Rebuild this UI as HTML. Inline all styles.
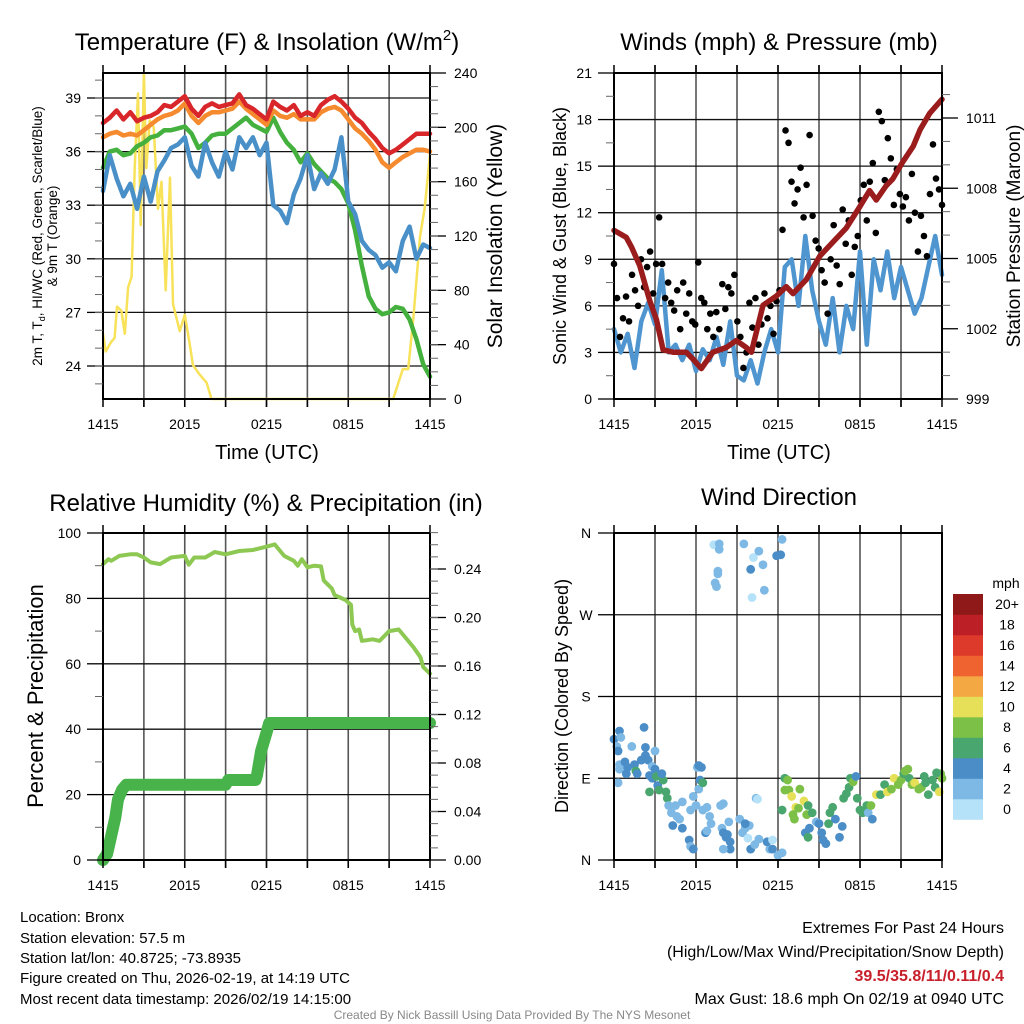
<!DOCTYPE html>
<html><head><meta charset="utf-8">
<style>
html,body{margin:0;padding:0;background:#fff;}
svg{display:block;font-family:"Liberation Sans",Arial,sans-serif;}
</style></head>
<body>
<svg id="chart" xmlns="http://www.w3.org/2000/svg" width="1024" height="1024" viewBox="0 0 1024 1024">
<rect x="0" y="0" width="1024" height="1024" fill="#fff"/>
<g id="layer"></g>
<text x="267" y="50" font-size="24" text-anchor="middle">Temperature (F) &amp; Insolation (W/m<tspan font-size="15" dy="-10">2</tspan><tspan dy="10">)</tspan></text>
<text x="779" y="50" font-size="24" text-anchor="middle">Winds (mph) &amp; Pressure (mb)</text>
<text x="266" y="511" font-size="24" text-anchor="middle">Relative Humidity (%) &amp; Precipitation (in)</text>
<text x="779" y="505" font-size="24" text-anchor="middle">Wind Direction</text>
<text x="267" y="459" font-size="20" text-anchor="middle">Time (UTC)</text>
<text x="779" y="459" font-size="20" text-anchor="middle">Time (UTC)</text>
<text transform="translate(42,236) rotate(-90)" font-size="13.5" text-anchor="middle">2m T, T<tspan font-size="9" dy="3">d</tspan><tspan dy="-3">, HI/WC (Red, Green, Scarlet/Blue)</tspan></text>
<text transform="translate(57,236) rotate(-90)" font-size="13.5" text-anchor="middle">&amp; 9m T (Orange)</text>
<text transform="translate(502,236) rotate(-90)" font-size="21" text-anchor="middle">Solar Insolation (Yellow)</text>
<text transform="translate(566,236) rotate(-90)" font-size="18" text-anchor="middle">Sonic Wind &amp; Gust (Blue, Black)</text>
<text transform="translate(1020,236) rotate(-90)" font-size="19" text-anchor="middle">Station Pressure (Maroon)</text>
<text transform="translate(43,696) rotate(-90)" font-size="22" text-anchor="middle">Percent &amp; Precipitation</text>
<text transform="translate(568,696) rotate(-90)" font-size="18" text-anchor="middle">Direction (Colored By Speed)</text>
<g font-size="15">
<text x="20" y="922">Location: Bronx</text>
<text x="20" y="943">Station elevation: 57.5 m</text>
<text x="20" y="963">Station lat/lon: 40.8725; -73.8935</text>
<text x="20" y="983">Figure created on Thu, 2026-02-19, at 14:19 UTC</text>
<text x="20" y="1004">Most recent data timestamp: 2026/02/19 14:15:00</text>
</g>
<g font-size="16" text-anchor="end">
<text x="1004" y="933">Extremes For Past 24 Hours</text>
<text x="1004" y="957">(High/Low/Max Wind/Precipitation/Snow Depth)</text>
<text x="1004" y="981" fill="#c8202a" font-weight="bold">39.5/35.8/11/0.11/0.4</text>
<text x="1004" y="1004">Max Gust: 18.6 mph On 02/19 at 0940 UTC</text>
</g>
<text x="512" y="1019" font-size="12" fill="#888" text-anchor="middle">Created By Nick Bassill Using Data Provided By The NYS Mesonet</text>
</svg>
<script>
const xTickLabels = ["1415","2015","0215","0815","1415"];
const tempLeftTicks = [24,27,30,33,36,39];
const solarTicks = [0,40,80,120,160,200,240];
const windTicks = [0,3,6,9,12,15,18,21];
const pressTicks = [999,1002,1005,1008,1011];
const rhTicks = [0,20,40,60,80,100];
const precipTicks = [0,0.04,0.08,0.12,0.16,0.20,0.24];
const dirTickLabels = ["N","E","S","W","N"];
const speedBins = ["0","2","4","6","8","10","12","14","16","18","20+"];
const speedColors = ["#b5e2f8","#7db9e4","#4a8dc7","#48a66e","#7cc048","#e6df58","#f4a844","#ee6330","#dd3a2c","#bd1f26","#8f1819"];

const tempRed = [37.6,37.9,38.3,37.8,38.2,37.7,37.9,38.0,38.2,38.6,38.5,38.8,39.1,38.4,38.0,38.5,38.7,38.5,38.6,38.7,39.2,38.6,38.4,38.1,37.8,38.8,38.5,38.3,38.6,38.0,38.2,38.0,38.6,38.9,39.1,38.8,38.4,37.9,37.6,37.1,36.7,36.2,35.9,36.1,36.4,36.7,37.0,37.0,37.0];
const temp9m = [36.8,37.0,37.1,36.9,37.0,36.9,37.2,37.5,37.8,38.0,38.1,38.3,38.7,38.0,37.6,38.0,38.2,38.2,38.3,38.4,38.8,38.4,38.1,37.8,37.5,38.3,38.0,37.9,38.1,37.8,37.8,37.8,38.2,38.4,38.5,38.3,37.8,37.3,37.0,36.6,36.1,35.4,35.1,35.4,35.7,35.9,36.1,36.1,36.0];
const dewGreen = [35.1,36.0,36.1,35.8,35.9,36.3,36.5,36.8,36.9,37.2,37.2,37.3,37.4,37.0,36.2,36.5,36.9,37.0,37.0,37.3,37.6,37.9,37.5,37.3,37.1,37.9,37.1,36.5,36.1,35.4,35.9,35.3,34.9,34.5,34.3,33.9,33.1,31.6,29.6,27.9,27.2,26.9,27.0,27.3,27.2,26.6,25.5,24.1,23.4];
const windChill = [33.8,35.8,34.5,33.5,34.2,32.8,34.6,33.2,34.9,35.5,36.2,36.4,36.8,35.2,34.6,36.5,35.4,34.6,36.0,35.0,36.8,36.2,36.8,35.8,36.5,33.0,32.7,32.0,33.6,34.5,35.8,33.9,34.8,34.2,35.0,36.8,33.2,32.5,31.0,30.5,30.2,29.5,29.8,29.3,31.0,31.8,30.0,30.8,30.6];
const solarHours = [0,0.2,0.6,0.85,1.03,1.35,1.6,1.84,2.1,2.33,2.57,2.77,3.0,3.18,3.43,3.72,4.04,4.29,4.6,4.92,5.14,5.63,6.0,6.37,6.6,7.1,7.6,7.96,21.3,22.0,22.4,22.78,23.27,23.6,24];
const solarVals = [48,35,42,45,68,65,48,82,90,170,225,128,240,170,205,200,140,160,80,163,70,50,62,40,25,18,12,0,0,22,22,60,120,140,180];

const windSpeed = [4.5,3.0,4.2,2.0,5.0,6.2,4.8,8.3,3.0,3.5,2.5,3.5,1.8,3.2,2.5,4.0,2.2,5.0,1.5,1.2,2.5,1.0,3.0,4.5,3.0,8.5,9.0,6.0,10.5,7.0,5.0,3.5,6.5,3.0,6.0,4.5,9.5,3.5,9.0,7.0,9.5,6.5,8.5,7.0,5.5,6.5,8.5,10.5,8.0];
const gustVals = [8.7,6.5,4.0,5.2,6.6,5.0,8.0,7.0,6.0,9.0,7.2,8.5,9.5,6.8,8.7,11.7,8.7,6.5,7.5,6.2,5.7,7.0,4.5,7.5,5.5,6.8,5.0,4.8,8.8,6.5,6.2,4.5,5.5,4.0,5.6,4.5,7.4,5.8,7.2,6.8,8.0,5.0,4.0,2.0,3.0,6.2,4.6,6.5,3.5,4.8,6.8,5.2,6.0,4.2,6.3,7.0,10.9,17.3,16.5,14.0,12.6,13.5,14.9,11.7,13.8,17.0,11.8,10.2,9.7,8.3,7.5,5.5,9.0,11.2,8.6,7.4,12.2,10.0,11.5,8.0,9.8,10.5,12.8,13.8,11.5,14.0,15.2,10.7,18.5,17.9,14.1,16.8,15.5,12.5,14.8,13.2,12.4,13.0,11.5,14.5,12.0,9.5,11.8,10.5,9.2,13.2,16.4,14.2,13.5,12.5];
const pressHours = [0,0.9,1.27,1.88,2.61,3.1,3.59,4.32,5.29,5.78,6.39,7.24,8.22,8.95,9.68,10.05,10.9,11.88,12.61,13.1,14.07,15.05,16.02,16.99,17.97,18.7,19.19,19.9,20.4,21.1,21.9,22.4,23.1,24];
const pressVals = [1006.2,1005.9,1005.5,1004.7,1003.2,1002.4,1001.1,1001.0,1001.0,1000.7,1000.3,1001.0,1001.2,1001.5,1001.2,1001.0,1003.0,1003.4,1003.8,1003.5,1004.1,1005.1,1005.7,1006.3,1007.2,1007.9,1007.5,1008.1,1008.4,1009.1,1009.8,1010.5,1011.2,1011.8];

const rhHours = [0,0.4,0.6,1.2,2.0,2.5,3.0,3.5,4.2,5.0,6.0,6.3,6.7,7.5,8.2,9.0,10.0,11.0,12.0,12.6,13.3,14.0,14.3,14.6,15.0,15.5,16.0,16.2,16.8,17.0,17.8,18.2,18.3,18.5,18.8,19.0,19.8,20.3,21.0,21.7,22.0,22.8,23.3,23.5,24.0];
const rhVals = [90.5,92,91.5,93,93.5,93.5,92.5,91,90.5,92.5,93,90.3,92.5,92.5,94.2,93.5,94.5,94.8,95.8,96.5,93,91.5,90,92,89.5,90,89.8,85.5,83,81,79.5,78,72,70,70.5,67,67.5,67,70,70.5,69,65,62,59,57];
const precipHours = [0,0.3,0.6,0.9,1.1,1.4,1.7,9.0,9.2,11.2,11.3,11.6,12.0,12.2,24];
const precipVals = [0,0.005,0.02,0.035,0.05,0.058,0.062,0.062,0.066,0.066,0.07,0.09,0.105,0.113,0.113];

const dirHours = [0,0.2,0.3,0.4,0.5,0.4,0.4,0.3,0.8,0.9,1.0,1.3,1.5,1.6,1.7,2.0,2.2,2.3,2.3,2.5,2.6,2.6,2.8,2.8,3.0,3.0,3.2,3.1,3.3,3.6,3.5,3.8,3.9,4.0,4.2,4.3,4.5,4.6,4.8,5.0,5.0,5.5,5.6,5.8,6.1,6.2,6.2,6.3,6.4,6.5,5.8,5.6,6.0,6.5,6.8,7.0,7.1,6.7,6.8,7.8,8.0,7.9,8.0,8.2,8.3,8.5,8.5,8.0,8.4,9.2,9.4,9.6,9.9,9.8,9.6,10.4,10.5,10.0,10.3,10.6,11.4,11.2,11.6,11.6,12.0,12.3,
 7.3,7.7,7.7,7.6,7.6,7.4,7.5,9.5,10.2,10.0,10.6,10.9,11.0,10.1,11.9,12.2,12.3,
 12.5,12.7,12.8,12.5,12.3,13.0,13.3,13.1,13.2,13.5,13.6,13.9,14.2,14.1,14.5,14.0,14.3,14.2,14.8,15.0,15.2,15.3,15.5,15.7,15.8,16.0,16.2,16.5,16.7,16.8,17.0,17.2,17.3,17.5,17.7,17.8,18.0,18.2,18.5,18.6,18.8,18.9,19.2,19.5,19.8,20.0,20.3,20.5,20.8,21.0,21.2,21.5,21.6,21.8,22.0,22.3,22.5,22.8,23.0,23.3,23.5,23.8,23.9,24.0,23.6,22.7,21.3];
const dirDeg = [133,125,120,142,135,105,100,85,108,95,102,125,105,98,95,110,146,124,115,110,93,75,90,103,120,100,82,92,77,88,95,75,68,60,52,38,60,48,45,35,64,22,15,12,102,104,78,88,102,85,70,55,60,55,58,48,40,30,32,60,62,35,30,25,28,20,12,12,42,45,30,35,38,24,40,68,67,12,17,23,12,20,12,22,5,8,
 347,348,342,318,315,305,301,348,333,320,340,325,297,289,335,336,353,
 90,88,77,77,55,70,58,50,45,57,78,65,60,50,52,30,35,25,42,40,30,22,18,40,52,58,45,25,37,68,73,80,90,86,92,68,55,52,60,52,60,45,72,72,83,75,78,90,83,88,95,100,90,83,85,78,80,85,72,88,80,75,95,90,96,92,98];
const dirSpeed = [4,2,4,4,2,2,2,2,4,4,4,2,4,6,4,4,4,4,4,4,4,6,4,2,2,4,4,6,6,6,4,6,6,2,2,4,2,2,2,4,2,4,2,4,2,4,2,4,4,6,2,2,2,2,2,2,2,4,2,2,2,2,4,4,4,4,4,2,2,2,2,2,2,0,4,2,0,4,2,2,2,4,4,0,2,2,
 0,2,2,2,2,2,2,2,0,4,2,2,2,0,4,4,2,
 6,8,8,8,6,10,10,8,8,8,8,10,6,8,6,4,4,6,2,4,4,4,4,6,6,6,4,4,4,6,6,6,6,8,4,6,6,6,6,2,8,4,10,6,6,10,8,10,8,8,6,8,6,8,10,8,8,6,6,6,6,10,8,8,6,6,8];

const NS="http://www.w3.org/2000/svg";
const layer=document.getElementById('layer');
function mk(tag,attrs,parent){const e=document.createElementNS(NS,tag);for(const k in attrs)e.setAttribute(k,attrs[k]);(parent||layer).appendChild(e);return e;}
function panel(x0,x1,y0,y1){return {x0,x1,y0,y1,x:h=>x0+h/24*(x1-x0)};}
function lin(d0,d1,p0,p1){return v=>p0+(v-d0)/(d1-d0)*(p1-p0);}

const PTL=panel(103,430,73,399), PTR=panel(614,942,73,399), PBL=panel(103,430,533,860), PBR=panel(614,942,533,860);

function grid(P,yTicksPx,name){
  const g=mk('g',{});
  
  
  for(let k=1;k<8;k++){const x=P.x(k*3);mk('line',{x1:x,x2:x,y1:P.y0-8,y2:P.y1+8,stroke:'#555','stroke-width':1.6},g);}
  yTicksPx.forEach(y=>{mk('line',{x1:P.x0,x2:P.x1,y1:y,y2:y,stroke:'#111','stroke-width':1.3},g);});
}
function frame(P,name){
  const r=mk('rect',{x:P.x0,y:P.y0,width:P.x1-P.x0,height:P.y1-P.y0,fill:'none',stroke:'#000','stroke-width':2});
  
  
  for(let k=0;k<=8;k++){const x=P.x(k*3);mk('line',{x1:x,x2:x,y1:P.y1,y2:P.y1+8,stroke:'#000','stroke-width':1.5});mk('line',{x1:x,x2:x,y1:P.y0,y2:P.y0-8,stroke:'#000','stroke-width':1.5});}
  xTickLabels.forEach((s,i)=>{const t=mk('text',{x:P.x(i*6),y:P.y1+30,'font-size':14,'text-anchor':'middle'});t.textContent=s;
    
    });
}
function yAxis(P,ticks,sc,side,fmt,minor,name){
  const x=side==='l'?P.x0:P.x1, dir=side==='l'?-1:1;
  ticks.forEach(v=>{const y=sc(v);mk('line',{x1:x,x2:x+dir*16,y1:y,y2:y,stroke:'#000','stroke-width':1.3});
    const t=mk('text',{x:x+dir*(side==='l'?22:24),y:y+5,'font-size':14,'text-anchor':side==='l'?'end':'start'});t.textContent=fmt(v);
    
    });
  (minor||[]).forEach(v=>{const y=sc(v);mk('line',{x1:x,x2:x+dir*8,y1:y,y2:y,stroke:'#666','stroke-width':1});});
}
function path(pts,attrs,name){
  const p=mk('path',Object.assign({d:'M'+pts.map(q=>q[0].toFixed(1)+','+q[1].toFixed(1)).join('L'),fill:'none','stroke-linejoin':'round','stroke-linecap':'round'},attrs));
  
  
  return p;
}
function range(a,b,s){const r=[];for(let v=a;v<=b+1e-9;v+=s)r.push(+v.toFixed(4));return r;}

const tY=lin(24,39,366,98), sY=lin(0,240,399,73);
grid(PTL,tempLeftTicks.map(tY),'temp');
const idxH=(i,n)=>i*24/(n-1);
path(solarVals.map((v,i)=>[PTL.x(solarHours[i]),sY(v)]),{stroke:'#f7e25a','stroke-width':2.5},'solar-line');
path(dewGreen.map((v,i)=>[PTL.x(idxH(i,dewGreen.length)),tY(v)]),{stroke:'#44b03e','stroke-width':4.5},'dewpoint-line');
path(windChill.map((v,i)=>[PTL.x(idxH(i,windChill.length)),tY(v)]),{stroke:'#4a90c8','stroke-width':4.5},'windchill-line');
path(temp9m.map((v,i)=>[PTL.x(idxH(i,temp9m.length)),tY(v)]),{stroke:'#f58a2e','stroke-width':4.5},'temp-9m-line');
path(tempRed.map((v,i)=>[PTL.x(idxH(i,tempRed.length)),tY(v)]),{stroke:'#d8262a','stroke-width':4.5},'temp-2m-line');
frame(PTL,'temp');
yAxis(PTL,tempLeftTicks,tY,'l',v=>v,range(23,40,1),'temp-y');
yAxis(PTL,solarTicks,sY,'r',v=>v,range(10,230,10),'solar-y');

const wY=lin(0,21,399,73), pY=lin(999,1011,399,118);
grid(PTR,windTicks.map(wY),'wind');
path(windSpeed.map((v,i)=>[PTR.x(idxH(i,windSpeed.length)),wY(v)]),{stroke:'#4f95cf','stroke-width':4.5},'wind-speed-line');
gustVals.forEach((v,i)=>{const c=mk('circle',{cx:PTR.x(idxH(i,gustVals.length)),cy:wY(v),r:3.3,fill:'#000'});
  
  });
path(pressVals.map((v,i)=>[PTR.x(pressHours[i]),pY(v)]),{stroke:'#9a1c1c','stroke-width':5.5},'pressure-line');
frame(PTR,'wind');
yAxis(PTR,windTicks,wY,'l',v=>v,range(1.5,19.5,3),'wind-y');
yAxis(PTR,pressTicks,pY,'r',v=>v,[1000,1001,1003,1004,1006,1007,1009,1010,1012],'pressure-y');

const rY=lin(0,100,860,533), prY=lin(0,0.24,860,569);
grid(PBL,rhTicks.map(rY),'rh');
path(rhVals.map((v,i)=>[PBL.x(rhHours[i]),rY(v)]),{stroke:'#8dc853','stroke-width':4},'rh-line');
path(precipVals.map((v,i)=>[PBL.x(precipHours[i]),prY(v)]),{stroke:'#47b34a','stroke-width':12},'precip-line');
frame(PBL,'rh');
yAxis(PBL,rhTicks,rY,'l',v=>v,range(10,90,20),'rh-y');
yAxis(PBL,precipTicks,prY,'r',v=>v.toFixed(2),range(0.01,0.27,0.01),'precip-y');

const dY=lin(0,360,860,533);
grid(PBR,[0,90,180,270,360].map(dY),'dir');
dirDeg.forEach((v,i)=>{const s=dirSpeed[i];const bi=Math.min(10,Math.round(s/2));
  const c=mk('circle',{cx:PBR.x(dirHours[i]),cy:dY(v),r:4.4,fill:speedColors[bi]});
  
  });
frame(PBR,'dir');
dirTickLabels.forEach((s,i)=>{const y=dY(i*90);mk('line',{x1:PBR.x0,x2:PBR.x0-16,y1:y,y2:y,stroke:'#000','stroke-width':1.3});
  const t=mk('text',{x:PBR.x0-28,y:y+5,'font-size':14,'text-anchor':'middle'});t.textContent=s;
  
  });
const lg=mk('g',{});


const lt=mk('text',{x:1006,y:588,'font-size':14,'text-anchor':'middle'},lg);lt.textContent='mph';
speedBins.forEach((s,i)=>{const y0=594+(10-i)*20.5;
  const r=mk('rect',{x:953,y:y0,width:30,height:20.8,fill:speedColors[i]},lg);
  
  
  const t=mk('text',{x:1007,y:y0+15,'font-size':14,'text-anchor':'middle'},lg);t.textContent=s;
  
  });
</script>
</body></html>
